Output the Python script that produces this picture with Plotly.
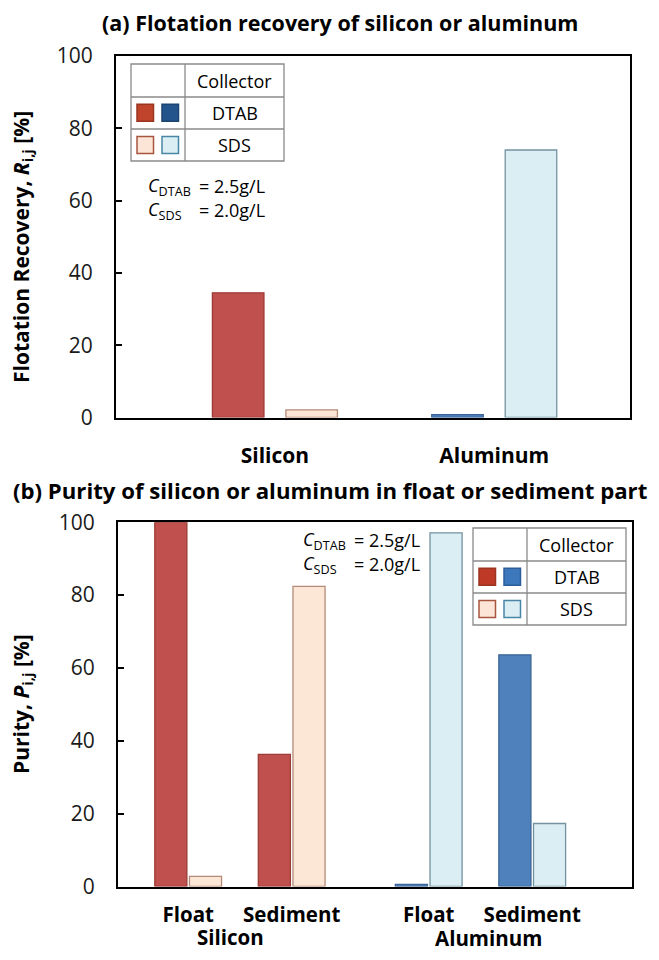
import plotly.graph_objects as go

W, H = 659, 960           # browser window
PAGE_MARGIN = 8           # default body margin of the html page
FIG_W, FIG_H = W - 2 * PAGE_MARGIN, H - 2 * PAGE_MARGIN
FONT = "Open Sans"

# ---------------- data ----------------
materials = ["Silicon", "Aluminum"]
collectors = ["DTAB", "SDS"]
# (a) flotation recovery [%]
recovery_dtab = [34.5, 0.8]
recovery_sds = [2.1, 74.0]
# (b) purity [%]
parts = ["Float", "Sediment"]
purity_si_dtab = [100.0, 36.3]
purity_si_sds = [2.8, 82.4]
purity_al_dtab = [0.6, 63.6]
purity_al_sds = [97.1, 17.3]
ytick_vals = [0, 20, 40, 60, 80, 100]

# ---------------- styles ----------------
FILL = {("Silicon", "DTAB"): "#C0504D", ("Silicon", "SDS"): "#FCE6D6",
        ("Aluminum", "DTAB"): "#4F81BD", ("Aluminum", "SDS"): "#DAEEF3"}
EDGE = {("Silicon", "DTAB"): "#9B3B36", ("Silicon", "SDS"): "#B58A78",
        ("Aluminum", "DTAB"): "#3A6596", ("Aluminum", "SDS"): "#7393A0"}


def px(x):
    """window pixel -> paper fraction"""
    return (x - PAGE_MARGIN) / FIG_W


def py(y):
    return 1 - (y - PAGE_MARGIN) / FIG_H


fig = go.Figure()

# ---- panel (a) ----
BW_A, GAP_A = 0.235, 0.1
for c, vals, off in [("DTAB", recovery_dtab, -BW_A - GAP_A / 2), ("SDS", recovery_sds, GAP_A / 2)]:
    fig.add_trace(go.Bar(
        x=materials, y=vals, name=c, width=BW_A, offset=off,
        marker=dict(color=[FILL[(m, c)] for m in materials],
                    line=dict(color=[EDGE[(m, c)] for m in materials], width=1.3)),
        xaxis="x", yaxis="y", showlegend=False))

# ---- panel (b) ----
GROUP_STEP = 2.324
BW_B, GAP_B = 0.31, 0.025
purity = {("Silicon", "DTAB"): purity_si_dtab, ("Silicon", "SDS"): purity_si_sds,
          ("Aluminum", "DTAB"): purity_al_dtab, ("Aluminum", "SDS"): purity_al_sds}
tickvals_b, ticktext_b = [], []
for i, m in enumerate(materials):
    xs = [i * GROUP_STEP + j for j in range(len(parts))]
    tickvals_b += xs
    ticktext_b += parts
    for c, off in [("DTAB", -BW_B - GAP_B / 2), ("SDS", GAP_B / 2)]:
        fig.add_trace(go.Bar(
            x=xs, y=purity[(m, c)], name=f"{m} {c}", width=BW_B, offset=off,
            marker=dict(color=FILL[(m, c)], line=dict(color=EDGE[(m, c)], width=1.3)),
            xaxis="x2", yaxis="y2", showlegend=False))

axis_common = dict(showline=True, mirror=True, linecolor="black", linewidth=2,
                   showgrid=False, zeroline=False, automargin=False)
yaxis_common = dict(axis_common, range=[0, 100], tickvals=ytick_vals, ticks="inside",
                    ticklen=6, tickwidth=1.5, tickcolor="black",
                    tickfont=dict(family=FONT, size=21, color="#1a1a1a"),
                    ticklabelstandoff=17)

fig.update_layout(
    width=FIG_W, height=FIG_H, margin=dict(l=0, r=0, t=0, b=0, autoexpand=False),
    paper_bgcolor="white", plot_bgcolor="white", barmode="overlay",
    font=dict(family=FONT, color="black"), showlegend=False,
    xaxis=dict(axis_common, domain=[px(116), px(630)], type="category",
               categoryorder="array", categoryarray=materials, range=[-0.7246, 1.619],
               ticks="", tickfont=dict(family=FONT, size=21, color="black", weight="bold"),
               ticklabelstandoff=18, anchor="y"),
    yaxis=dict(yaxis_common, domain=[py(417.5), py(56)], anchor="x"),
    xaxis2=dict(axis_common, domain=[px(118), px(632)], range=[-0.678, 4.288],
                tickvals=tickvals_b, ticktext=ticktext_b, ticks="",
                tickfont=dict(family=FONT, size=20.5, color="black", weight="bold"),
                ticklabelstandoff=9, anchor="y2"),
    yaxis2=dict(yaxis_common, domain=[py(886.5), py(522.3)], anchor="x2"),
)

ann = []
shapes = []
# titles
ann.append(dict(x=px(340), y=py(22.5), text="<b>(a) Flotation recovery of silicon or aluminum</b>",
                font=dict(size=21.5), borderpad=0))
ann.append(dict(x=px(330), y=py(490), text="<b>(b) Purity of silicon or aluminum in float or sediment part</b>",
                font=dict(size=22.2)))
# y-axis titles
ann.append(dict(x=px(22), y=py(247), text="<b>Flotation Recovery, <i>R</i><sub>i,j</sub> [%]</b>",
                textangle=-90, font=dict(size=21)))
ann.append(dict(x=px(22), y=py(704), text="<b>Purity, <i>P</i><sub>i,j</sub> [%]</b>",
                textangle=-90, font=dict(size=21)))
# material labels under panel (b)
for i, m in enumerate(materials):
    center = i * GROUP_STEP + (len(parts) - 1) / 2
    ann.append(dict(x=center, xref="x2", y=py(937 + i), yref="paper", text=f"<b>{m}</b>",
                    xshift=-9 if i == 0 else 8, font=dict(size=20.5), borderpad=0))


def conc_note(x0, y0):
    lines = [("DTAB", "2.5g/L"), ("SDS", "2.0g/L")]
    for k, (c, v) in enumerate(lines):
        yy = y0 + k * 24
        ann.append(dict(x=px(x0), y=py(yy), xanchor="left", text=f"<i>C</i><sub>{c}</sub>",
                        font=dict(size=18)))
        ann.append(dict(x=px(x0 + 51), y=py(yy), xanchor="left", text=f"= {v}",
                        font=dict(size=18)))


def legend_table(x0, y0, sq_colors):
    w, h1, h = 153, 33, 97
    col = 54
    lc = dict(color="#8a8a8a", width=1.3)
    P = dict(xref="paper", yref="paper")
    shapes.append(dict(P, type="rect", x0=px(x0), x1=px(x0 + w), y0=py(y0), y1=py(y0 + h),
                       line=lc, fillcolor="white", layer="above"))
    shapes.append(dict(P, type="line", x0=px(x0 + col), x1=px(x0 + col), y0=py(y0), y1=py(y0 + h),
                       line=lc, layer="above"))
    for r in (1, 2):
        yy = y0 + h1 + (r - 1) * 32
        shapes.append(dict(P, type="line", x0=px(x0), x1=px(x0 + w), y0=py(yy), y1=py(yy),
                           line=lc, layer="above"))
    labels = ["Collector"] + collectors
    for r, t in enumerate(labels):
        yc = y0 + 16.5 + r * 32.3
        ann.append(dict(x=px(x0 + col + (w - col) / 2), y=py(yc), text=t, font=dict(size=18)))
    for r, c in enumerate(collectors):
        yc = y0 + 16.5 + (r + 1) * 32.3
        for k, m in enumerate(materials):
            fc, ec = sq_colors[(m, c)]
            xs = x0 + 6 + k * 25
            shapes.append(dict(P, type="rect", x0=px(xs), x1=px(xs + 16.5), y0=py(yc - 8.5),
                               y1=py(yc + 8.5), line=dict(color=ec, width=1.5), fillcolor=fc,
                               layer="above"))


sq_top = {("Silicon", "DTAB"): ("#C0442C", "#9A3520"), ("Aluminum", "DTAB"): ("#23558C", "#1B4470"),
          ("Silicon", "SDS"): ("#FCE4D6", "#A8553F"), ("Aluminum", "SDS"): ("#DAEEF3", "#4A86A6")}
sq_bot = {("Silicon", "DTAB"): ("#BE3A26", "#9A3520"), ("Aluminum", "DTAB"): ("#3D78BD", "#2C5F9A"),
          ("Silicon", "SDS"): ("#FCE4D6", "#A8553F"), ("Aluminum", "SDS"): ("#DAEEF3", "#4A86A6")}

legend_table(131, 64, sq_top)
legend_table(473, 528, sq_bot)
conc_note(146, 186)
conc_note(301, 540)

for a in ann:
    a.setdefault("xref", "paper")
    a.setdefault("yref", "paper")
    a.setdefault("showarrow", False)
    a.setdefault("xanchor", "center")
    a.setdefault("yanchor", "middle")
    f = a.setdefault("font", {})
    f.setdefault("family", FONT)
    f.setdefault("color", "black")

fig.update_layout(annotations=ann, shapes=shapes)
fig.write_html("out.html")
